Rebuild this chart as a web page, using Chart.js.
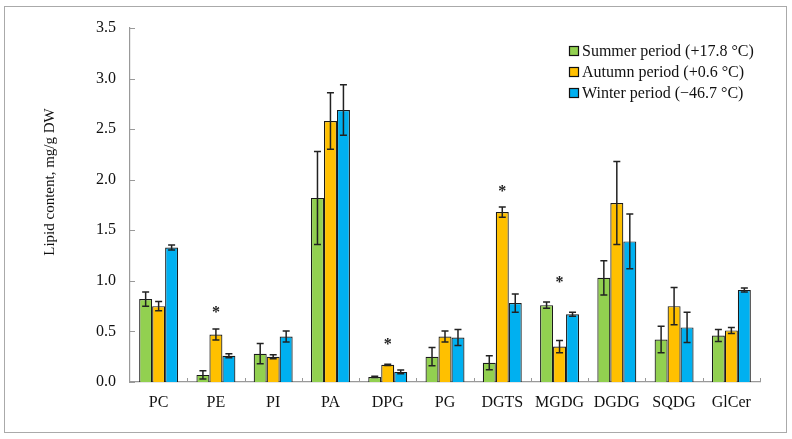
<!DOCTYPE html>
<html>
<head>
<meta charset="utf-8">
<script src="https://cdn.jsdelivr.net/npm/chart.js@4"></script>
<style>
  body { margin: 0; background: #fff; }
  #wrap { width: 792px; height: 439px; position: relative; }
</style>
</head>
<body>
<div id="wrap"><canvas id="lipids" width="792" height="439"></canvas></div>
<script>
// categories and values (mg/g DW)
const categories = ['PC', 'PE', 'PI', 'PA', 'DPG', 'PG', 'DGTS', 'MGDG', 'DGDG', 'SQDG', 'GlCer'];
const seriesNames = ['Summer period (+17.8 °C)', 'Autumn period (+0.6 °C)', 'Winter period (\u221246.7 °C)'];

const summerValues = [0.82, 0.07, 0.28, 1.82, 0.05, 0.25, 0.19, 0.76, 1.03, 0.42, 0.46];
const autumnValues = [0.75, 0.47, 0.25, 2.58, 0.17, 0.45, 1.68, 0.35, 1.77, 0.75, 0.51];
const winterValues = [1.33, 0.26, 0.45, 2.69, 0.10, 0.44, 0.78, 0.67, 1.39, 0.54, 0.91];

const summerErrors = [0.07, 0.04, 0.10, 0.46, 0.006, 0.09, 0.07, 0.03, 0.17, 0.13, 0.06];
const autumnErrors = [0.045, 0.055, 0.02, 0.28, 0.006, 0.055, 0.05, 0.06, 0.41, 0.185, 0.03];
const winterErrors = [0.025, 0.02, 0.055, 0.25, 0.018, 0.08, 0.09, 0.02, 0.27, 0.15, 0.02];

// asterisks: category index and height (value) where they sit
const starCategories = [1, 4, 6, 7];
const starValues = [0.71, 0.40, 1.91, 1.01];

const yTicks = [0, 0.5, 1, 1.5, 2, 2.5, 3, 3.5];

const colors = ['#92D050', '#FFC000', '#00B0F0'];
const serif = "'Liberation Serif', 'DejaVu Serif', serif";

// error bars, asterisks, inside ticks, frame, legend, y title
const extras = {
    id: 'extras',
    afterDatasetsDraw(chart) {
        const ctx = chart.ctx;
        const y = chart.scales.y;
        const x = chart.scales.x;
        const errors = [summerErrors, autumnErrors, winterErrors];

        ctx.save();
        ctx.strokeStyle = '#222';
        ctx.lineWidth = 1.5;
        chart.data.datasets.forEach((ds, di) => {
            chart.getDatasetMeta(di).data.forEach((bar, i) => {
                const v = ds.data[i];
                const e = errors[di][i];
                const top = y.getPixelForValue(v + e);
                const bot = y.getPixelForValue(v - e);
                ctx.beginPath();
                ctx.moveTo(bar.x, top); ctx.lineTo(bar.x, bot);
                ctx.moveTo(bar.x - 3.5, top); ctx.lineTo(bar.x + 3.5, top);
                ctx.moveTo(bar.x - 3.5, bot); ctx.lineTo(bar.x + 3.5, bot);
                ctx.stroke();
            });
        });

        // asterisks above the autumn bar
        ctx.fillStyle = '#222';
        ctx.font = 'bold 16px ' + serif;
        ctx.textAlign = 'center';
        ctx.textBaseline = 'middle';
        starCategories.forEach((c, k) => {
            const bar = chart.getDatasetMeta(1).data[c];
            ctx.fillText('*', bar.x, y.getPixelForValue(starValues[k]) + 3);
        });
        ctx.restore();
    },
    afterDraw(chart) {
        const ctx = chart.ctx;
        const x = chart.scales.x;
        const y = chart.scales.y;
        const area = chart.chartArea;

        ctx.save();
        // inside ticks
        ctx.strokeStyle = '#999';
        ctx.lineWidth = 1;
        ctx.beginPath();
        yTicks.forEach(t => {
            const py = Math.round(y.getPixelForValue(t)) + 0.5;
            ctx.moveTo(area.left, py); ctx.lineTo(area.left + 5, py);
        });
        const step = (area.right - area.left) / categories.length;
        for (let i = 1; i <= categories.length; i++) {
            const px = Math.round(area.left + i * step) + 0.5;
            ctx.moveTo(px, area.bottom); ctx.lineTo(px, area.bottom - 4);
        }
        ctx.stroke();

        // outer frame
        ctx.strokeStyle = '#aaa';
        ctx.strokeRect(4.5, 6.5, 782, 426);

        // y title
        ctx.fillStyle = '#111';
        ctx.font = '15px ' + serif;
        ctx.translate(50, 182);
        ctx.rotate(-Math.PI / 2);
        ctx.textAlign = 'center';
        ctx.textBaseline = 'middle';
        ctx.fillText('Lipid content, mg/g DW', 0, 0);
        ctx.restore();

        // legend
        ctx.save();
        ctx.font = '16px ' + serif;
        ctx.textBaseline = 'middle';
        seriesNames.forEach((name, i) => {
            const cy = 51 + i * 21;
            ctx.fillStyle = colors[i];
            ctx.fillRect(569, cy - 5, 10, 10);
            ctx.strokeStyle = '#111';
            ctx.lineWidth = 1.2;
            ctx.strokeRect(569.5, cy - 4.5, 9, 9);
            ctx.fillStyle = '#111';
            ctx.fillText(name, 582, cy + 1);
        });
        ctx.restore();
    }
};

new Chart(document.getElementById('lipids'), {
    type: 'bar',
    data: {
        labels: categories,
        datasets: [summerValues, autumnValues, winterValues].map((vals, i) => ({
            label: seriesNames[i],
            data: vals,
            backgroundColor: colors[i],
            borderColor: '#1a1a1a',
            borderWidth: 1.2,
            categoryPercentage: 0.68,
            barPercentage: 1.0
        }))
    },
    options: {
        responsive: false,
        animation: false,
        layout: { padding: { top: 28, right: 32, bottom: 0, left: 0 } },
        plugins: {
            legend: { display: false },
            tooltip: { enabled: false }
        },
        scales: {
            x: {
                grid: { display: false, drawTicks: false },
                border: { color: '#999', width: 1.2 },
                ticks: { color: '#111', padding: 11, font: { family: serif, size: 16 } },
                afterFit: s => { s.height = 57; }
            },
            y: {
                min: 0,
                max: 3.5,
                grid: { display: false, drawTicks: false },
                border: { color: '#999', width: 1.2 },
                afterBuildTicks: s => { s.ticks = yTicks.map(v => ({ value: v })); },
                ticks: {
                    color: '#111',
                    padding: 14,
                    font: { family: serif, size: 16 },
                    callback: v => v.toFixed(1)
                },
                afterFit: s => { s.width = 130; }
            }
        }
    },
    plugins: [extras]
});
</script>
</body>
</html>
